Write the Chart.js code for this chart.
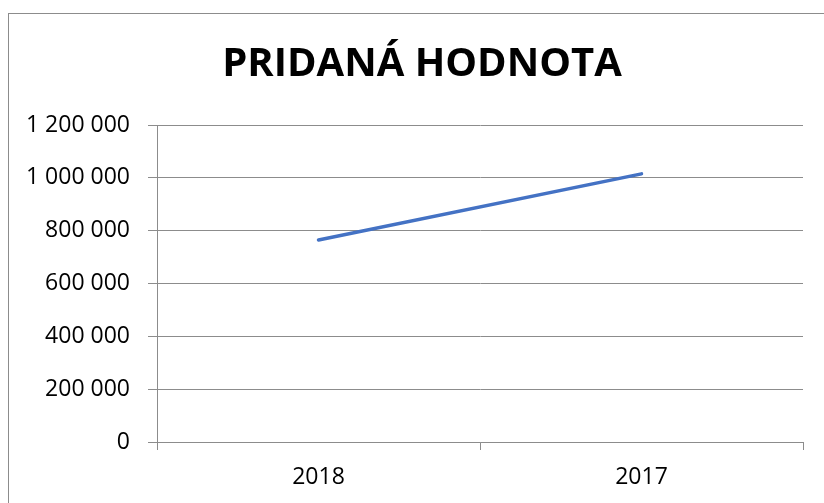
<!DOCTYPE html>
<html lang="sk">
<head>
    <meta charset="UTF-8">
    <title>Pridaná hodnota</title>
    <script src="https://cdn.jsdelivr.net/npm/chart.js"></script>
    <style>
        body {
            margin: 0;
            padding: 0;
            background: #fff;
            overflow: hidden;
        }
        .frame {
            position: absolute;
            left: 8px;
            top: 13px;
            width: 900px;
            height: 600px;
            border-left: 1px solid #8c8c8c;
            border-top: 1px solid #8c8c8c;
        }
        /* the chart frame runs past the right edge of the window */
        .wrap {
            position: absolute;
            left: 0;
            top: 0;
            width: 844px;
            height: 503px;
        }
    </style>
</head>
<body>
    <div class="frame"></div>
    <div class="wrap">
        <canvas id="valueChart"></canvas>
    </div>

    <script>
        const chartTitle = 'PRIDANÁ HODNOTA';
        const years = ['2018', '2017'];
        const addedValue = [765000, 1015000];
        const yMin = 0;
        const yMax = 1200000;
        const yStep = 200000;

        // 1200000 -> "1 200 000"
        function spaced(v) {
            return String(v).replace(/\B(?=(\d{3})+(?!\d))/g, ' ');
        }

        const ctx = document.getElementById('valueChart').getContext('2d');
        const chart = new Chart(ctx, {
            type: 'line',
            data: {
                labels: years,
                datasets: [{
                    label: chartTitle,
                    data: addedValue,
                    borderColor: '#4472C4',
                    borderWidth: 3.5,
                    borderCapStyle: 'round',
                    pointRadius: 0,
                    tension: 0,
                    fill: false
                }]
            },
            options: {
                responsive: true,
                maintainAspectRatio: false,
                animation: false,
                layout: { padding: 0 },
                plugins: {
                    legend: { display: false },
                    tooltip: { enabled: false },
                    title: {
                        display: true,
                        text: chartTitle,
                        color: '#000',
                        font: { family: 'Open Sans', size: 40, weight: 'bold', lineHeight: 1.2 },
                        padding: { top: 41, bottom: 36 }
                    }
                },
                scales: {
                    x: {
                        offset: true,
                        grid: {
                            offset: true,
                            drawOnChartArea: false,
                            drawTicks: true,
                            tickLength: 8,
                            color: '#8c8c8c'
                        },
                        border: { color: '#8c8c8c', width: 1 },
                        ticks: {
                            color: '#000',
                            padding: 14,
                            font: { family: 'Open Sans', size: 23 }
                        },
                        afterFit: s => { s.height = 61; }
                    },
                    y: {
                        min: yMin,
                        max: yMax,
                        grid: {
                            color: '#8c8c8c',
                            tickLength: 9,
                            lineWidth: 1
                        },
                        border: { color: '#8c8c8c', width: 1 },
                        ticks: {
                            stepSize: yStep,
                            color: '#000',
                            padding: 18,
                            font: { family: 'Open Sans', size: 23 },
                            callback: v => spaced(v)
                        },
                        afterFit: s => { s.width = 157; }
                    },
                    // empty right-hand margin, so the title stays centred on the frame
                    yRight: {
                        position: 'right',
                        display: true,
                        grid: { display: false },
                        border: { display: false },
                        ticks: { display: false },
                        afterFit: s => { s.width = 41; }
                    }
                }
            }
        });
    </script>
</body>
</html>
